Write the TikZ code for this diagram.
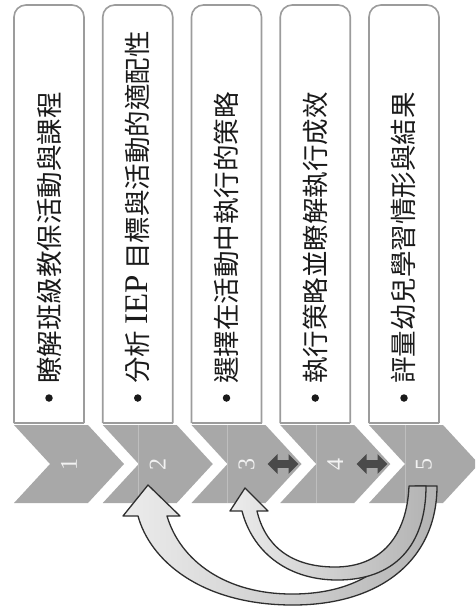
\documentclass[tikz,border=0pt]{standalone}
\usepackage{fontspec}
\setmainfont{Liberation Serif}
\newfontfamily\cjk{Noto Sans CJK TC}
\usetikzlibrary{arrows.meta}
\definecolor{chevgray}{HTML}{A8A8A8}
\definecolor{boxline}{HTML}{9C9C9C}
\definecolor{dblarrow}{HTML}{4A4A4A}
\definecolor{numcol}{HTML}{F2F2F2}
\definecolor{curveline}{HTML}{2E2E2E}
\definecolor{curvelight}{HTML}{ECECEC}
\definecolor{curvemid}{HTML}{E2E2E2}
\definecolor{curvedark}{HTML}{B4B4B4}
\definecolor{splitline}{HTML}{BEBEBE}
\definecolor{textcol}{HTML}{1A1A1A}
\begin{document}
\begin{tikzpicture}[x=1pt,y=-1pt,
  stepbox/.style={draw=boxline, line width=1.6pt, fill=white, rounded corners=12pt},
  boxbottom/.style={draw=boxline, line width=1.6pt},
  chev/.style={fill=chevgray},
  split/.style={draw=splitline, line width=0.8pt},
  steptext/.style={rotate=90, anchor=west, inner sep=0pt, text=textcol, font=\cjk\fontsize{26.5}{26.5}\selectfont},
  bulletdot/.style={circle, fill=textcol, inner sep=0pt, minimum size=7.5pt},
  numtext/.style={rotate=90, inner sep=0pt, text=numcol, font=\fontsize{24}{24}\selectfont},
  dbl/.style={draw=dblarrow, line width=8pt, {Triangle[width=19pt,length=10pt]}-{Triangle[width=19pt,length=10pt]}},
  bigarrow/.style={draw=curveline, line width=1.3pt, line join=round, left color=curvelight, middle color=curvemid, right color=curvedark}
]
\path[use as bounding box, fill=white] (0,0) rectangle (475,614);
\clip (0,0) rectangle (475,614);

% boxes
\foreach \L in {14,102.75,191.5,280.25,369} {
  \draw[stepbox] (\L,423) -- (\L,5) -- (\L+70,5) -- (\L+70,423);
  \draw[boxbottom] (\L,423) -- (\L+70,423);
}

% texts
\node[bulletdot] (b1) at (49,398) {};
\node[steptext] (t1) at (49,384) {瞭解班級教保活動與課程};
\node[bulletdot] (b2) at (137.75,398) {};
\node[steptext] (t2) at (137.75,384) {分析\hspace{0.22em}{\rmfamily\fontsize{33}{33}\selectfont IEP}\hspace{0.22em}目標與活動的適配性};
\node[bulletdot] (b3) at (226.5,398) {};
\node[steptext] (t3) at (226.5,384) {選擇在活動中執行的策略};
\node[bulletdot] (b4) at (315.25,398) {};
\node[steptext] (t4) at (315.25,384) {執行策略並瞭解執行成效};
\node[bulletdot] (b5) at (404,398) {};
\node[steptext] (t5) at (404,384) {評量幼兒學習情形與結果};

% chevrons
\foreach \L [count=\i] in {14,102.75,191.5,280.25,369} {
  \fill[chev] (\L,425) -- (\L+74,425) -- (\L+110,464) -- (\L+74,503) -- (\L,503) -- (\L+36,464) -- cycle;
  \ifnum\i>1
    \draw[split] (\L+36,425) -- (\L+36,503);
  \fi
  \node[numtext] (n\i) at (\L+55,464) {\i};
}

% double arrows
\coordinate (d3a) at (267.5,464);
\coordinate (d3b) at (298.5,464);
\coordinate (d4a) at (356.5,464);
\coordinate (d4b) at (387.5,464);
\draw[dbl] (d3a) -- (d3b);
\draw[dbl] (d4a) -- (d4b);

% curved arrow back to step 2
\coordinate (a2o) at (138,516);
\coordinate (a2s1) at (437,486);
\coordinate (a2s2) at (415,486);
\coordinate (a2i) at (167,516);
\coordinate (a2h1) at (180,516);
\coordinate (a2tip) at (148,485);
\coordinate (a2h2) at (123,516);
\draw[bigarrow] (a2o) .. controls (150,560) and (200,604) .. (290,605)
  .. controls (380,606) and (437,560) .. (a2s1) -- (a2s2)
  .. controls (415,550) and (372,593) .. (295,594)
  .. controls (225,595) and (180,560) .. (a2i)
  -- (a2h1) -- (a2tip) -- (a2h2) -- cycle;

% curved arrow back to step 3
\coordinate (a3o) at (242,511);
\coordinate (a3s1) at (426,486);
\coordinate (a3s2) at (409,486);
\coordinate (a3i) at (257,511);
\coordinate (a3h1) at (268,511);
\coordinate (a3tip) at (245,488);
\coordinate (a3h2) at (230,511);
\draw[bigarrow] (a3o) .. controls (252,550) and (285,579) .. (335,580)
  .. controls (395,581) and (426,545) .. (a3s1) -- (a3s2)
  .. controls (407,535) and (382,567) .. (335,567)
  .. controls (290,567) and (265,545) .. (a3i)
  -- (a3h1) -- (a3tip) -- (a3h2) -- cycle;
\end{tikzpicture}
\end{document}
